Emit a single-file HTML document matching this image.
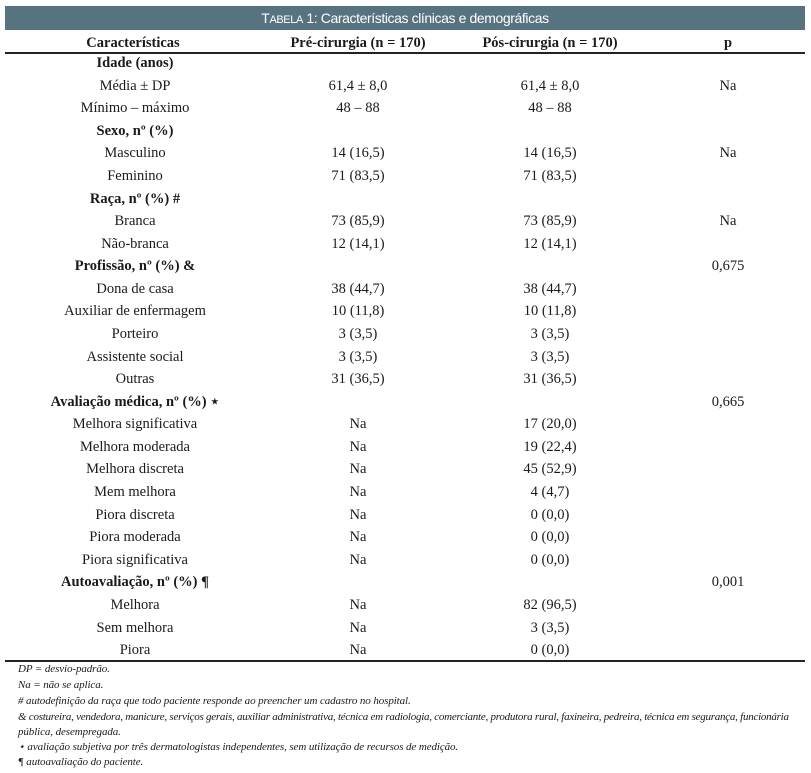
<!DOCTYPE html>
<html><head><meta charset="utf-8"><style>
body{margin:0;width:811px;height:773px;background:#fff;position:relative;overflow:hidden;font-family:"Liberation Serif",serif;color:#1a1a1a;font-size:14.5px}
.t{position:absolute;left:5px;top:6px;width:800px;height:24px;background:#587380;color:#fff;font-family:"Liberation Sans",sans-serif;font-size:14px;text-align:center;line-height:24px;letter-spacing:-0.4px}
.r{position:absolute;left:0;width:811px;height:20px;line-height:20px}
.r span{position:absolute;transform:translateX(-50%);white-space:nowrap}
.b{font-weight:bold}
.hl{position:absolute;left:5px;width:800px;height:1.5px;background:#222}
.f{position:absolute;left:18px;font-style:italic;font-size:11px;white-space:nowrap;line-height:14px;letter-spacing:-0.1px}
</style></head><body>
<div class="t">T<span style="font-size:11px">ABELA</span> 1: Características clínicas e demográficas</div>
<div class="r b" style="top:33px"><span style="left:133px">Características</span><span style="left:358px">Pré-cirurgia (n = 170)</span><span style="left:550px">Pós-cirurgia (n = 170)</span><span style="left:728px">p</span></div>
<div class="hl" style="top:52px"></div>
<div id="rows"></div>
<div class="hl" style="top:660px"></div>
<div class="f" style="top:662px">DP = desvio-padrão.</div>
<div class="f" style="top:678px">Na = não se aplica.</div>
<div class="f" style="top:694px"># autodefinição da raça que todo paciente responde ao preencher um cadastro no hospital.</div>
<div class="f" style="top:710px;letter-spacing:-0.25px">&amp; costureira, vendedora, manicure, serviços gerais, auxiliar administrativa, técnica em radiologia, comerciante, produtora rural, faxineira, pedreira, técnica em segurança, funcionária</div>
<div class="f" style="top:725px">pública, desempregada.</div>
<div class="f" style="top:740px">⋆ avaliação subjetiva por três dermatologistas independentes, sem utilização de recursos de medição.</div>
<div class="f" style="top:755px">¶ autoavaliação do paciente.</div>
<script>
var d=[["b","Idade (anos)","","",""],["","Média ± DP","61,4 ± 8,0","61,4 ± 8,0","Na"],["","Mínimo – máximo","48 – 88","48 – 88",""],
["b","Sexo, nº (%)","","",""],["","Masculino","14 (16,5)","14 (16,5)","Na"],["","Feminino","71 (83,5)","71 (83,5)",""],
["b","Raça, nº (%) #","","",""],["","Branca","73 (85,9)","73 (85,9)","Na"],["","Não-branca","12 (14,1)","12 (14,1)",""],
["b","Profissão, nº (%) &amp;","","","0,675"],["","Dona de casa","38 (44,7)","38 (44,7)",""],["","Auxiliar de enfermagem","10 (11,8)","10 (11,8)",""],["","Porteiro","3 (3,5)","3 (3,5)",""],["","Assistente social","3 (3,5)","3 (3,5)",""],["","Outras","31 (36,5)","31 (36,5)",""],
["b","Avaliação médica, nº (%) ⋆","","","0,665"],["","Melhora significativa","Na","17 (20,0)",""],["","Melhora moderada","Na","19 (22,4)",""],["","Melhora discreta","Na","45 (52,9)",""],["","Mem melhora","Na","4 (4,7)",""],["","Piora discreta","Na","0 (0,0)",""],["","Piora moderada","Na","0 (0,0)",""],["","Piora significativa","Na","0 (0,0)",""],
["b","Autoavaliação, nº (%) ¶","","","0,001"],["","Melhora","Na","82 (96,5)",""],["","Sem melhora","Na","3 (3,5)",""],["","Piora","Na","0 (0,0)",""]];
var h="";d.forEach(function(r,i){var y=53+i*22.58;h+='<div class="r" style="top:'+y.toFixed(1)+'px"><span class="'+r[0]+'" style="left:135px">'+r[1]+'</span><span style="left:358px">'+r[2]+'</span><span style="left:550px">'+r[3]+'</span><span style="left:728px">'+r[4]+'</span></div>';});
document.getElementById("rows").innerHTML=h;
</script>
</body></html>
